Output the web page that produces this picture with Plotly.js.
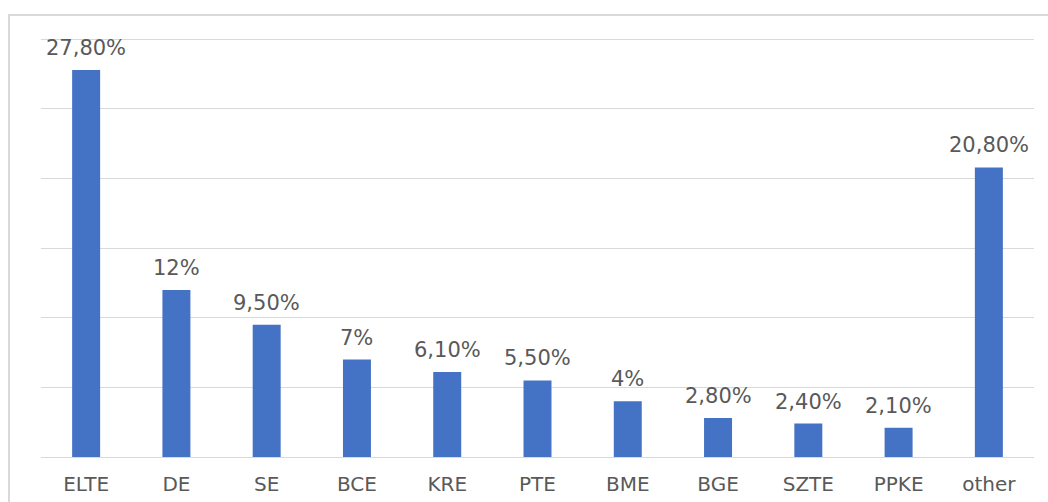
<!DOCTYPE html>
<html>
<head>
<meta charset="utf-8">
<script src="https://cdn.plot.ly/plotly-3.0.1.min.js"></script>
<style>
  body { margin: 0; background: #fff; }
  #frame { position: absolute; left: 8px; top: 14px; width: 1050px; height: 500px; border: 2px solid #d9d9d9; box-sizing: border-box; }
  #chart { position: absolute; left: 0; top: 0; width: 1048px; height: 502px; }
</style>
</head>
<body>
<div id="frame"></div>
<div id="chart"></div>
<script>
const universities = ['ELTE', 'DE', 'SE', 'BCE', 'KRE', 'PTE', 'BME', 'BGE', 'SZTE', 'PPKE', 'other'];
const shares = [27.8, 12, 9.5, 7, 6.1, 5.5, 4, 2.8, 2.4, 2.1, 20.8];
const shareLabels = ['27,80%', '12%', '9,50%', '7%', '6,10%', '5,50%', '4%', '2,80%', '2,40%', '2,10%', '20,80%'];

const chart = document.getElementById('chart');

const data = [{
  type: 'bar',
  x: universities,
  y: shares,
  marker: { color: '#4472C4' },
  hoverinfo: 'x+y'
}];

// value labels sit a bit higher above the bars than plotly's own outside text
const annotations = [];
for( let i = 0; i < universities.length; i++ ) {
  annotations.push({
    x: universities[i],
    y: shares[i],
    text: shareLabels[i],
    showarrow: false,
    yanchor: 'bottom',
    yshift: 8,
    font: { family: 'DejaVu Sans', size: 21, color: '#595959' }
  });
}

const layout = {
  width: 1048,
  height: 502,
  paper_bgcolor: 'rgba(0,0,0,0)',
  plot_bgcolor: 'rgba(0,0,0,0)',
  margin: { l: 41, r: 14, t: 38, b: 45 },
  bargap: 0.69,
  showlegend: false,
  annotations: annotations,
  xaxis: {
    tickfont: { family: 'DejaVu Sans', size: 20, color: '#595959' },
    ticks: '',
    ticklabelstandoff: 13,
    showline: false,
    showgrid: false
  },
  yaxis: {
    range: [0, 30.1],
    tickvals: [0, 5, 10, 15, 20, 25, 30],
    showticklabels: false,
    gridcolor: '#d9d9d9',
    gridwidth: 1,
    zeroline: true,
    zerolinecolor: '#d9d9d9',
    zerolinewidth: 1
  }
};

Plotly.newPlot(chart, data, layout, { displayModeBar: false });
</script>
</body>
</html>
